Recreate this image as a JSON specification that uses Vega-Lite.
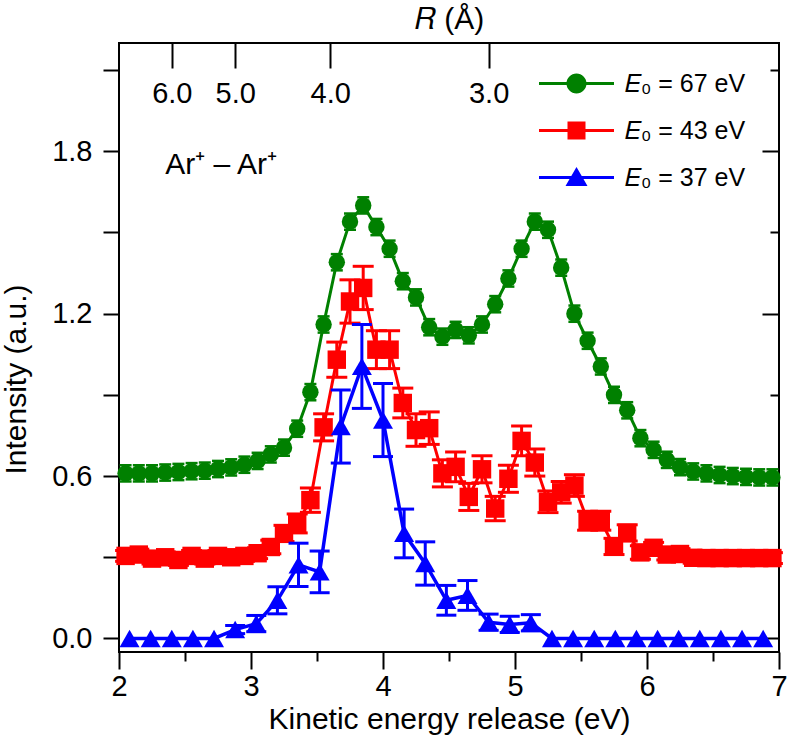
{
  "$schema": "https://vega.github.io/schema/vega-lite/v6.json",
  "width": 660,
  "height": 609,
  "autosize": {"type": "none"},
  "padding": {"left": 119, "top": 43, "right": 9, "bottom": 98},
  "background": "white",
  "config": {
    "view": {"stroke": "black", "strokeWidth": 2},
    "axis": {"grid": false, "domain": false, "tickColor": "black", "tickWidth": 2, "labelFont": "Liberation Sans", "labelFontSize": 29, "labelColor": "black", "titleFont": "Liberation Sans", "titleFontSize": 30, "titleFontWeight": "normal", "titleColor": "black", "labelFlush": false, "labelOverlap": false},
    "legend": {"orient": "none", "legendX": 445, "legendY": 28, "symbolSize": 400, "symbolStrokeWidth": 0, "symbolOpacity": 1, "labelFont": "Liberation Sans", "labelFontSize": 25, "labelColor": "black", "labelOffset": 36, "rowPadding": 21, "padding": 0}
  },
  "datasets": {
    "green": [
      {"x": 2.05, "y": 0.61, "err": 0.03}, {"x": 2.15, "y": 0.61, "err": 0.03}, {"x": 2.25, "y": 0.61, "err": 0.03},
      {"x": 2.35, "y": 0.613, "err": 0.03}, {"x": 2.45, "y": 0.615, "err": 0.03}, {"x": 2.55, "y": 0.618, "err": 0.03},
      {"x": 2.65, "y": 0.62, "err": 0.03}, {"x": 2.75, "y": 0.626, "err": 0.03}, {"x": 2.85, "y": 0.632, "err": 0.03},
      {"x": 2.95, "y": 0.642, "err": 0.03}, {"x": 3.05, "y": 0.656, "err": 0.03}, {"x": 3.15, "y": 0.68, "err": 0.03},
      {"x": 3.25, "y": 0.705, "err": 0.03}, {"x": 3.35, "y": 0.775, "err": 0.03}, {"x": 3.45, "y": 0.91, "err": 0.03},
      {"x": 3.55, "y": 1.16, "err": 0.03}, {"x": 3.65, "y": 1.39, "err": 0.03}, {"x": 3.75, "y": 1.54, "err": 0.03},
      {"x": 3.85, "y": 1.6, "err": 0.03}, {"x": 3.95, "y": 1.52, "err": 0.03}, {"x": 4.05, "y": 1.44, "err": 0.03},
      {"x": 4.15, "y": 1.32, "err": 0.03}, {"x": 4.25, "y": 1.26, "err": 0.03}, {"x": 4.35, "y": 1.15, "err": 0.03},
      {"x": 4.45, "y": 1.115, "err": 0.03}, {"x": 4.55, "y": 1.14, "err": 0.03}, {"x": 4.65, "y": 1.12, "err": 0.03},
      {"x": 4.75, "y": 1.16, "err": 0.03}, {"x": 4.85, "y": 1.235, "err": 0.03}, {"x": 4.95, "y": 1.33, "err": 0.03},
      {"x": 5.05, "y": 1.44, "err": 0.03}, {"x": 5.15, "y": 1.54, "err": 0.03}, {"x": 5.25, "y": 1.51, "err": 0.03},
      {"x": 5.35, "y": 1.37, "err": 0.03}, {"x": 5.45, "y": 1.2, "err": 0.03}, {"x": 5.55, "y": 1.1, "err": 0.03},
      {"x": 5.65, "y": 1.005, "err": 0.03}, {"x": 5.75, "y": 0.9, "err": 0.03}, {"x": 5.85, "y": 0.843, "err": 0.03},
      {"x": 5.95, "y": 0.74, "err": 0.03}, {"x": 6.05, "y": 0.697, "err": 0.03}, {"x": 6.15, "y": 0.66, "err": 0.03},
      {"x": 6.25, "y": 0.633, "err": 0.03}, {"x": 6.35, "y": 0.617, "err": 0.03}, {"x": 6.45, "y": 0.61, "err": 0.03},
      {"x": 6.55, "y": 0.604, "err": 0.03}, {"x": 6.65, "y": 0.6, "err": 0.03}, {"x": 6.75, "y": 0.597, "err": 0.03},
      {"x": 6.85, "y": 0.595, "err": 0.03}, {"x": 6.95, "y": 0.595, "err": 0.03}
    ],
    "red": [
      {"x": 2.05, "y": 0.305, "err": 0.02}, {"x": 2.15, "y": 0.31, "err": 0.02}, {"x": 2.25, "y": 0.295, "err": 0.02},
      {"x": 2.35, "y": 0.3, "err": 0.02}, {"x": 2.45, "y": 0.29, "err": 0.02}, {"x": 2.55, "y": 0.305, "err": 0.02},
      {"x": 2.65, "y": 0.295, "err": 0.02}, {"x": 2.75, "y": 0.305, "err": 0.02}, {"x": 2.85, "y": 0.3, "err": 0.02},
      {"x": 2.95, "y": 0.305, "err": 0.02}, {"x": 3.05, "y": 0.315, "err": 0.02}, {"x": 3.15, "y": 0.338, "err": 0.025},
      {"x": 3.25, "y": 0.388, "err": 0.03}, {"x": 3.35, "y": 0.425, "err": 0.035}, {"x": 3.45, "y": 0.511, "err": 0.045},
      {"x": 3.55, "y": 0.78, "err": 0.05}, {"x": 3.65, "y": 1.03, "err": 0.065}, {"x": 3.75, "y": 1.245, "err": 0.08},
      {"x": 3.85, "y": 1.295, "err": 0.08}, {"x": 3.95, "y": 1.067, "err": 0.07}, {"x": 4.05, "y": 1.067, "err": 0.07},
      {"x": 4.15, "y": 0.87, "err": 0.055}, {"x": 4.25, "y": 0.77, "err": 0.06}, {"x": 4.35, "y": 0.777, "err": 0.06},
      {"x": 4.45, "y": 0.61, "err": 0.05}, {"x": 4.55, "y": 0.634, "err": 0.055}, {"x": 4.65, "y": 0.523, "err": 0.05},
      {"x": 4.75, "y": 0.625, "err": 0.05}, {"x": 4.85, "y": 0.48, "err": 0.045}, {"x": 4.95, "y": 0.59, "err": 0.05},
      {"x": 5.05, "y": 0.73, "err": 0.055}, {"x": 5.15, "y": 0.65, "err": 0.05}, {"x": 5.25, "y": 0.505, "err": 0.04},
      {"x": 5.35, "y": 0.54, "err": 0.04}, {"x": 5.45, "y": 0.565, "err": 0.04}, {"x": 5.55, "y": 0.435, "err": 0.035},
      {"x": 5.65, "y": 0.435, "err": 0.035}, {"x": 5.75, "y": 0.34, "err": 0.03}, {"x": 5.85, "y": 0.39, "err": 0.03},
      {"x": 5.95, "y": 0.318, "err": 0.025}, {"x": 6.05, "y": 0.335, "err": 0.02}, {"x": 6.15, "y": 0.31, "err": 0.02},
      {"x": 6.25, "y": 0.312, "err": 0.02}, {"x": 6.35, "y": 0.298, "err": 0.02}, {"x": 6.45, "y": 0.297, "err": 0.02},
      {"x": 6.55, "y": 0.297, "err": 0.02}, {"x": 6.65, "y": 0.297, "err": 0.02}, {"x": 6.75, "y": 0.297, "err": 0.02},
      {"x": 6.85, "y": 0.297, "err": 0.02}, {"x": 6.95, "y": 0.297, "err": 0.02}
    ],
    "blue": [
      {"x": 2.08, "y": 0, "err": 0}, {"x": 2.24, "y": 0, "err": 0}, {"x": 2.4, "y": 0, "err": 0},
      {"x": 2.56, "y": 0, "err": 0}, {"x": 2.72, "y": 0, "err": 0}, {"x": 2.88, "y": 0.033, "err": 0.015},
      {"x": 3.04, "y": 0.055, "err": 0.03}, {"x": 3.2, "y": 0.141, "err": 0.05}, {"x": 3.36, "y": 0.272, "err": 0.08},
      {"x": 3.52, "y": 0.246, "err": 0.077}, {"x": 3.68, "y": 0.783, "err": 0.135}, {"x": 3.84, "y": 1.005, "err": 0.155},
      {"x": 4.0, "y": 0.807, "err": 0.135}, {"x": 4.16, "y": 0.388, "err": 0.09}, {"x": 4.32, "y": 0.277, "err": 0.08},
      {"x": 4.48, "y": 0.141, "err": 0.055}, {"x": 4.64, "y": 0.159, "err": 0.055}, {"x": 4.8, "y": 0.06, "err": 0.03},
      {"x": 4.96, "y": 0.052, "err": 0.03}, {"x": 5.12, "y": 0.058, "err": 0.03}, {"x": 5.28, "y": 0, "err": 0},
      {"x": 5.44, "y": 0, "err": 0}, {"x": 5.6, "y": 0, "err": 0}, {"x": 5.76, "y": 0, "err": 0},
      {"x": 5.92, "y": 0, "err": 0}, {"x": 6.08, "y": 0, "err": 0}, {"x": 6.24, "y": 0, "err": 0},
      {"x": 6.4, "y": 0, "err": 0}, {"x": 6.56, "y": 0, "err": 0}, {"x": 6.72, "y": 0, "err": 0},
      {"x": 6.88, "y": 0, "err": 0}
    ],
    "legend": [
      {"label": "𝐸₀ = 67 eV"}, {"label": "𝐸₀ = 43 eV"}, {"label": "𝐸₀ = 37 eV"}
    ]
  },
  "resolve": {"axis": {"x": "independent", "y": "independent"}},
  "layer": [
    {
      "data": {"name": "green"},
      "mark": {"type": "errorbar", "color": "#008000", "opacity": 1, "ticks": {"size": 12, "thickness": 2.5, "opacity": 1}, "rule": {"strokeWidth": 2, "opacity": 1}},
      "encoding": {
        "x": {"field": "x", "type": "quantitative", "scale": {"domain": [2, 7], "nice": false, "zero": false}, "axis": null},
        "y": {"field": "y", "type": "quantitative", "scale": {"domain": [-0.05, 2.2], "nice": false, "zero": false}, "axis": null},
        "yError": {"field": "err"}
      }
    },
    {
      "data": {"name": "green"},
      "mark": {"type": "line", "color": "#008000", "strokeWidth": 3},
      "encoding": {
        "x": {"field": "x", "type": "quantitative", "scale": {"domain": [2, 7], "nice": false, "zero": false},
              "axis": {"orient": "bottom", "values": [2, 3, 4, 5, 6, 7], "format": "d", "tickSize": 17, "labelPadding": 3, "title": "Kinetic energy release (eV)", "titlePadding": 3}},
        "y": {"field": "y", "type": "quantitative", "scale": {"domain": [-0.05, 2.2], "nice": false, "zero": false},
              "axis": {"orient": "left", "values": [0, 0.3, 0.6, 0.9, 1.2, 1.5, 1.8, 2.1], "tickSize": 16, "labelPadding": 11,
                       "labelExpr": "abs(datum.value / 0.6 - round(datum.value / 0.6)) < 0.01 ? format(datum.value, '.1f') : ''",
                       "title": "Intensity (a.u.)", "titlePadding": 20, "titleY": 336}}
      }
    },
    {
      "data": {"name": "green"},
      "mark": {"type": "point", "shape": "circle", "filled": true, "size": 270, "color": "#008000", "opacity": 1},
      "encoding": {
        "x": {"field": "x", "type": "quantitative", "scale": {"domain": [2, 7], "nice": false, "zero": false},
              "axis": {"orient": "bottom", "values": [2.5, 3.5, 4.5, 5.5, 6.5], "tickSize": 9, "labels": false, "title": null}},
        "y": {"field": "y", "type": "quantitative", "scale": {"domain": [-0.05, 2.2], "nice": false, "zero": false},
              "axis": {"orient": "right", "values": [0, 0.6, 1.2, 1.8], "tickSize": -17, "labels": false, "title": null}}
      }
    },
    {
      "data": {"name": "red"},
      "mark": {"type": "errorbar", "color": "#ff0000", "opacity": 1, "ticks": {"size": 21, "thickness": 3, "opacity": 1}, "rule": {"strokeWidth": 3, "opacity": 1}},
      "encoding": {
        "x": {"field": "x", "type": "quantitative", "scale": {"domain": [2, 7], "nice": false, "zero": false}, "axis": null},
        "y": {"field": "y", "type": "quantitative", "scale": {"domain": [-0.05, 2.2], "nice": false, "zero": false}, "axis": null},
        "yError": {"field": "err"}
      }
    },
    {
      "data": {"name": "red"},
      "mark": {"type": "line", "color": "#ff0000", "strokeWidth": 3},
      "encoding": {
        "x": {"field": "x", "type": "quantitative", "scale": {"domain": [2, 7], "nice": false, "zero": false},
              "axis": {"orient": "top", "values": [2.4, 2.88, 3.6, 4.8], "tickSize": -25, "labelPadding": -40,
                       "labelExpr": "datum.value < 2.5 ? '6.0' : datum.value < 3 ? '5.0' : datum.value < 4 ? '4.0' : '3.0'",
                       "title": "𝑅 (Å)", "titlePadding": 8}},
        "y": {"field": "y", "type": "quantitative", "scale": {"domain": [-0.05, 2.2], "nice": false, "zero": false},
              "axis": {"orient": "right", "values": [0.3, 0.9, 1.5, 2.1], "tickSize": -9, "labels": false, "title": null}}
      }
    },
    {
      "data": {"name": "red"},
      "mark": {"type": "point", "shape": "square", "filled": true, "size": 340, "color": "#ff0000", "opacity": 1},
      "encoding": {
        "x": {"field": "x", "type": "quantitative", "scale": {"domain": [2, 7], "nice": false, "zero": false}, "axis": null},
        "y": {"field": "y", "type": "quantitative", "scale": {"domain": [-0.05, 2.2], "nice": false, "zero": false}, "axis": null}
      }
    },
    {
      "data": {"name": "blue"},
      "transform": [{"filter": "datum.err > 0"}],
      "mark": {"type": "errorbar", "color": "#0000ff", "opacity": 1, "ticks": {"size": 20, "thickness": 3, "opacity": 1}, "rule": {"strokeWidth": 3, "opacity": 1}},
      "encoding": {
        "x": {"field": "x", "type": "quantitative", "scale": {"domain": [2, 7], "nice": false, "zero": false}, "axis": null},
        "y": {"field": "y", "type": "quantitative", "scale": {"domain": [-0.05, 2.2], "nice": false, "zero": false}, "axis": null},
        "yError": {"field": "err"}
      }
    },
    {
      "data": {"name": "blue"},
      "mark": {"type": "line", "color": "#0000ff", "strokeWidth": 3.5},
      "encoding": {
        "x": {"field": "x", "type": "quantitative", "scale": {"domain": [2, 7], "nice": false, "zero": false}, "axis": null},
        "y": {"field": "y", "type": "quantitative", "scale": {"domain": [-0.05, 2.2], "nice": false, "zero": false}, "axis": null}
      }
    },
    {
      "data": {"name": "blue"},
      "mark": {"type": "point", "shape": "triangle-up", "filled": true, "size": 400, "color": "#0000ff", "opacity": 1},
      "encoding": {
        "x": {"field": "x", "type": "quantitative", "scale": {"domain": [2, 7], "nice": false, "zero": false}, "axis": null},
        "y": {"field": "y", "type": "quantitative", "scale": {"domain": [-0.05, 2.2], "nice": false, "zero": false}, "axis": null}
      }
    },
    {
      "data": {"values": [{"label": "Ar⁺ – Ar⁺", "x": 2.35, "y": 1.75}]},
      "mark": {"type": "text", "align": "left", "baseline": "middle", "font": "Liberation Sans", "fontSize": 30, "color": "black"},
      "encoding": {
        "x": {"field": "x", "type": "quantitative", "scale": {"domain": [2, 7], "nice": false, "zero": false}, "axis": null},
        "y": {"field": "y", "type": "quantitative", "scale": {"domain": [-0.05, 2.2], "nice": false, "zero": false}, "axis": null},
        "text": {"field": "label"}
      }
    },
    {
      "data": {"name": "legend"},
      "transform": [{"filter": "datum.label == ''"}],
      "mark": {"type": "point", "filled": true, "opacity": 1},
      "encoding": {
        "color": {"field": "label", "type": "nominal", "title": null,
                  "scale": {"domain": ["𝐸₀ = 67 eV", "𝐸₀ = 43 eV", "𝐸₀ = 37 eV"], "range": ["#008000", "#ff0000", "#0000ff"]}},
        "shape": {"field": "label", "type": "nominal", "title": null,
                  "scale": {"domain": ["𝐸₀ = 67 eV", "𝐸₀ = 43 eV", "𝐸₀ = 37 eV"],
                            "range": ["M-3.75,-0.15H3.75V0.15H-3.75Z M1,0A1,1 0 1,1 -1,0A1,1 0 1,1 1,0Z",
                                      "M-3.75,-0.15H3.75V0.15H-3.75Z M-0.9,-0.9H0.9V0.9H-0.9Z",
                                      "M-3.75,-0.15H3.75V0.15H-3.75Z M0,-1.05L1.1,0.85L-1.1,0.85Z"]}}
      }
    }
  ]
}
